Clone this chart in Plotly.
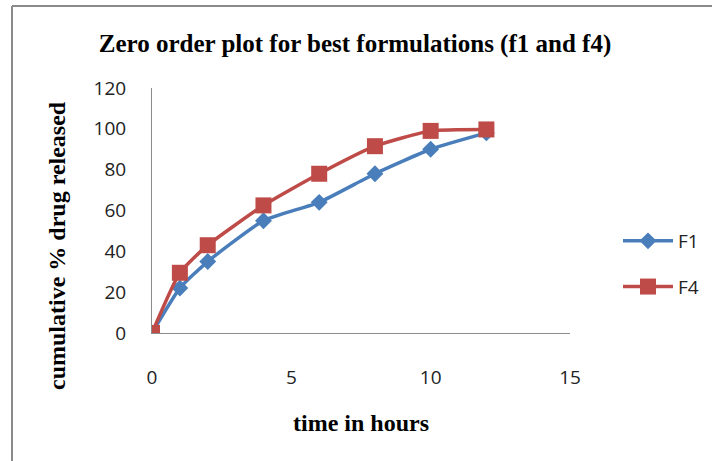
import plotly.graph_objects as go

# Release data (hours vs cumulative % drug released)
time_h = [0, 1, 2, 4, 6, 8, 10, 12]
f1_release = [0, 22, 35, 55, 64, 78, 90, 98]
f4_release = [0, 29.5, 43, 62.5, 78, 91.5, 99, 99.7]

x_ticks = [0, 5, 10, 15]
y_ticks = [0, 20, 40, 60, 80, 100, 120]

BLUE = "#4A7EBB"
RED = "#BE4B48"
AXIS_GREY = "#8C8C8C"
TICK_FONT = dict(family="Open Sans", size=19, color="#222")
SERIF_BOLD = dict(family="Liberation Serif", size=24, color="black")

fig = go.Figure()
fig.add_trace(go.Scatter(
    x=time_h, y=f1_release, name="F1", mode="lines+markers",
    line=dict(color=BLUE, width=3.5, shape="spline", smoothing=0.5),
    marker=dict(symbol="diamond", size=13, color=BLUE),
    legendgroup="f1",
))
fig.add_trace(go.Scatter(
    x=time_h, y=f4_release, name="F4", mode="lines+markers",
    line=dict(color=RED, width=3.5, shape="spline", smoothing=0.5),
    marker=dict(symbol="square", size=16, color=RED),
    legendgroup="f4",
))

L, R, T, B = 152, 142, 88, 128
W, H = 712, 461
pw, ph = W - L - R, H - T - B

def px_to_paper_x(px):
    return (px - L) / pw

def py_to_paper_y(py):
    return (H - B - py) / ph

fig.update_layout(
    width=W, height=H,
    margin=dict(l=L, r=R, t=T, b=B, autoexpand=False),
    paper_bgcolor="white", plot_bgcolor="white",
    title=dict(
        text="<b>Zero order plot for best formulations (f1 and f4)</b>",
        font=dict(family="Liberation Serif", size=25, color="black"),
        x=355 / W, xanchor="center", xref="container",
        y=1 - 43 / H, yanchor="middle",
    ),
    xaxis=dict(
        range=[0, 15], tickvals=x_ticks, showgrid=False, zeroline=False,
        showline=True, linecolor=AXIS_GREY, linewidth=1,
        ticks="outside", ticklen=0, ticklabelstandoff=27,
        tickfont=TICK_FONT,
        title=dict(text="<b>time in hours</b>", standoff=25, font=SERIF_BOLD),
    ),
    yaxis=dict(
        range=[0, 120], tickvals=y_ticks, showgrid=False, zeroline=False,
        showline=True, linecolor=AXIS_GREY, linewidth=1,
        ticks="outside", ticklen=0, ticklabelstandoff=21,
        tickfont=TICK_FONT,
    ),
    legend=dict(
        x=px_to_paper_x(618), y=py_to_paper_y(222), xanchor="left", yanchor="top",
        font=dict(family="Open Sans", size=19, color="#222"),
        itemwidth=50, tracegroupgap=18, bgcolor="rgba(0,0,0,0)",
    ),
    showlegend=True,
)

# y-axis title, sitting a little below the plot-area centre
fig.add_annotation(
    text="<b>cumulative % drug released</b>", textangle=-90,
    xref="paper", yref="paper",
    x=px_to_paper_x(57), y=py_to_paper_y(246),
    xanchor="center", yanchor="middle", showarrow=False,
    font=SERIF_BOLD,
)

# outer frame (top and left edges)
fig.add_shape(type="line", xref="paper", yref="paper",
              x0=px_to_paper_x(12), x1=px_to_paper_x(720),
              y0=py_to_paper_y(6), y1=py_to_paper_y(6),
              line=dict(color="#8A8A8A", width=2))
fig.add_shape(type="line", xref="paper", yref="paper",
              x0=px_to_paper_x(12), x1=px_to_paper_x(12),
              y0=py_to_paper_y(6), y1=py_to_paper_y(470),
              line=dict(color="#8A8A8A", width=2))

fig.write_html("out.html")
